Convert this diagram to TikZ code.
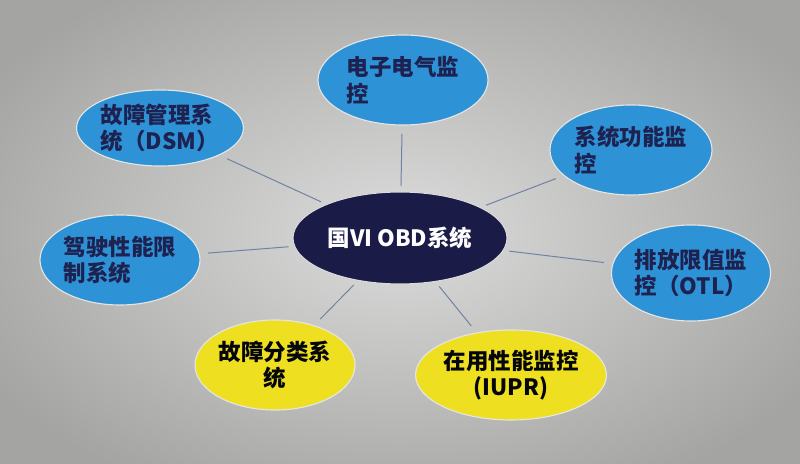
\documentclass[tikz,border=0pt]{standalone}
\usepackage{fontspec}
\setmainfont{Noto Sans CJK SC}
\usetikzlibrary{shapes.geometric}
\definecolor{bgmid}{HTML}{DCDCDC}
\definecolor{bgedge}{HTML}{A4A4A2}
\definecolor{hubblue}{HTML}{1B1B48}
\definecolor{leafblue}{HTML}{2E92D6}
\definecolor{leafyellow}{HTML}{EEE020}
\definecolor{inkblue}{HTML}{1E2250}
\definecolor{linkgray}{HTML}{6E82A2}

\begin{document}
\begin{tikzpicture}[x=0.025cm,y=-0.025cm]
    \tikzstyle{leaf}=[ellipse,draw=white!80!gray,line width=0.8pt,inner sep=0pt,
        text=inkblue,font=\fontsize{16}{19}\selectfont\bfseries]
    \tikzstyle{blueleaf}=[leaf,fill=leafblue,align=left]
    \tikzstyle{yellowleaf}=[leaf,fill=leafyellow,align=center,text=black!85!inkblue]
    \tikzstyle{link}=[draw=linkgray,line width=0.7pt,shorten <=4pt,shorten >=6pt]
    \useasboundingbox (0,0) rectangle (800,464);
    % background
    \begin{scope}
        \clip (0,0) rectangle (800,464);
        \shade[inner color=bgmid,outer color=bgedge] (-80,-60) rectangle (880,524);
    \end{scope}
    % hub
    \node[ellipse,fill=hubblue,draw=white!70!gray,line width=0.8pt,inner sep=0pt,
        text=white,font=\fontsize{16}{19}\selectfont\bfseries,
        minimum width=5.35cm,minimum height=2.3cm] (hub) at (400,238) {国VI OBD系统};
    % leaves
    \node[blueleaf,minimum width=4.25cm,minimum height=2.25cm] (elec) at (403,80) {电子电气监\\控};
    \node[blueleaf,minimum width=4.0cm,minimum height=1.9cm] (dsm) at (160,128) {故障管理系\\统（DSM）};
    \node[blueleaf,minimum width=4.05cm,minimum height=2.25cm] (func) at (631,150) {系统功能监\\控};
    \node[blueleaf,minimum width=4.0cm,minimum height=2.25cm] (drive) at (120,260) {驾驶性能限\\制系统};
    \node[blueleaf,minimum width=3.95cm,minimum height=2.4cm] (otl) at (691,273) {排放限值监\\控（OTL）};
    \node[yellowleaf,minimum width=4.0cm,minimum height=2.25cm] (fault) at (275,365) {故障分类系\\统};
    \node[yellowleaf,minimum width=4.2cm,minimum height=2.25cm] (iupr) at (511,375) {在用性能监控\\(IUPR)};
    % links
    \foreach \leaf in {elec,dsm,func,drive,otl,fault,iupr}
        \draw[link] (hub) -- (\leaf);
\end{tikzpicture}
\end{document}
